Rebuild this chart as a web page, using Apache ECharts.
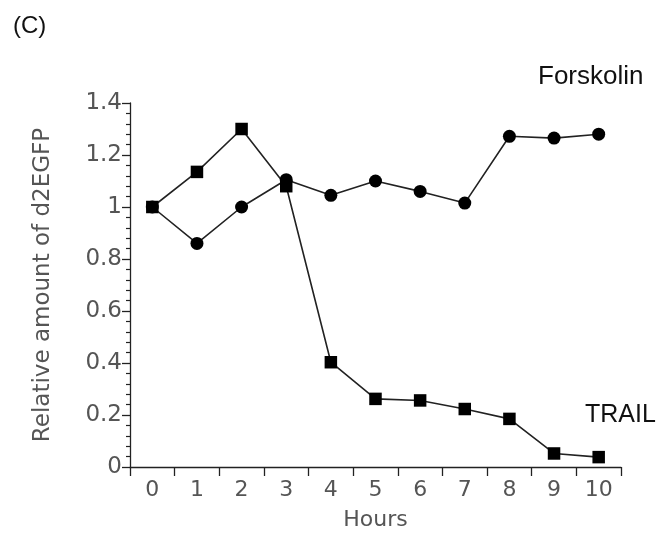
<!DOCTYPE html>
<html><head><meta charset="utf-8">
<script src="https://cdn.jsdelivr.net/npm/echarts@6/dist/echarts.min.js"></script>
<style>html,body{margin:0;padding:0;background:#fff}#c{width:662px;height:536px}</style>
</head><body><div id="c"></div>
<script>
const hours = ['0','1','2','3','4','5','6','7','8','9','10'];
const forskolin = [1.0, 0.86, 1.0, 1.105, 1.045, 1.10, 1.06, 1.015, 1.272, 1.265, 1.28];
const trail = [1.0, 1.135, 1.30, 1.08, 0.403, 0.262, 0.256, 0.223, 0.185, 0.052, 0.038];
const AXFONT = '"DejaVu Sans", sans-serif';
const LBFONT = '"Liberation Sans", Arial, sans-serif';
const chart = echarts.init(document.getElementById('c'));
chart.setOption({
  animation: false,
  backgroundColor: '#fff',
  grid: {left: 130, right: 41, top: 103, bottom: 64},
  xAxis: {
    type: 'category', data: hours, boundaryGap: true,
    name: 'Hours', nameLocation: 'middle', nameGap: 42,
    nameTextStyle: {color: '#555', fontSize: 22, fontFamily: AXFONT},
    axisLine: {lineStyle: {color: '#222', width: 1.3}},
    axisTick: {show: true, interval: 0, length: 9, lineStyle: {color: '#222', width: 1.3}},
    axisLabel: {color: '#555', fontSize: 22, fontFamily: AXFONT, margin: 12, interval: 0},
    splitLine: {show: false}
  },
  yAxis: {
    type: 'value', min: 0, max: 1.4, interval: 0.2,
    name: 'Relative amount of d2EGFP', nameLocation: 'middle', nameGap: 75,
    nameTextStyle: {color: '#555', fontSize: 23, fontFamily: AXFONT},
    axisLine: {show: true, lineStyle: {color: '#222', width: 1.3}},
    axisTick: {show: true, length: 8, lineStyle: {color: '#222', width: 1.3}},
    minorTick: {show: true, splitNumber: 5, length: 4, lineStyle: {color: '#222', width: 1.2}},
    axisLabel: {color: '#555', fontSize: 23, fontFamily: AXFONT, margin: 8},
    splitLine: {show: false}
  },
  graphic: [
    {type: 'text', left: 13, top: 14, style: {text: '(C)', fontSize: 24, fontFamily: LBFONT, fill: '#111'}},
    {type: 'text', left: 538, top: 64, style: {text: 'Forskolin', fontSize: 26, fontFamily: LBFONT, fill: '#111'}},
    {type: 'text', left: 585, top: 403, style: {text: 'TRAIL', fontSize: 25, fontFamily: LBFONT, fill: '#111'}}
  ],
  series: [
    {name: 'Forskolin', type: 'line', data: forskolin, symbol: 'circle', symbolSize: 13,
     itemStyle: {color: '#000'}, lineStyle: {color: '#222', width: 1.6}},
    {name: 'TRAIL', type: 'line', data: trail, symbol: 'rect', symbolSize: 12.5,
     itemStyle: {color: '#000'}, lineStyle: {color: '#222', width: 1.6}}
  ]
});
</script></body></html>
